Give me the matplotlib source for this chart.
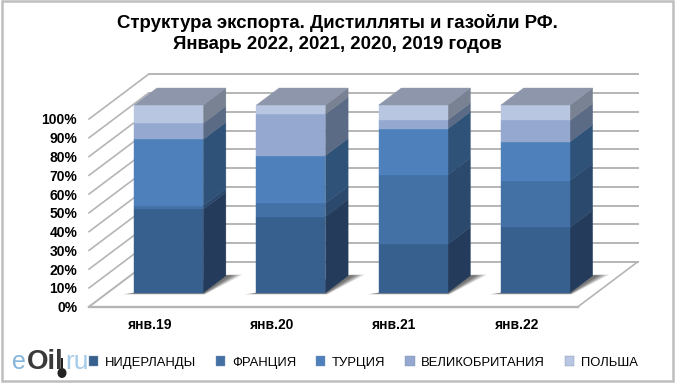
import matplotlib
matplotlib.use("Agg")
import matplotlib.pyplot as plt
from matplotlib.patches import Polygon, Rectangle, Patch, Ellipse
from matplotlib.transforms import Affine2D

plt.rcParams['font.family'] = ['Liberation Sans', 'DejaVu Sans']

categories = ['янв.19', 'янв.20', 'янв.21', 'янв.22']
series_names = ['НИДЕРЛАНДЫ', 'ФРАНЦИЯ', 'ТУРЦИЯ', 'ВЕЛИКОБРИТАНИЯ', 'ПОЛЬША']
niderlandy = [44.4, 40.6, 25.8, 34.8]
francia = [2.0, 7.0, 36.9, 24.9]
turcia = [35.3, 25.5, 24.6, 20.7]
britania = [8.6, 22.1, 4.7, 11.4]
polsha = [9.7, 4.8, 8.0, 8.2]
series = [niderlandy, francia, turcia, britania, polsha]

front_colors = ['#37608E', '#4371A6', '#4E80BC', '#94A8D0', '#B9C6E1']
side_colors = ['#243B5B', '#2B486D', '#2F5279', '#5B6A85', '#788292']
top_color = '#8E96AB'

W, H = 680, 385
fig = plt.figure(figsize=(W / 100, H / 100), dpi=100, facecolor='white')
# axes = front plane of the oblique chart box
L, R, B, T = 89, 578, 306.7, 119
ax = fig.add_axes([L / W, 1 - B / H, (R - L) / W, (B - T) / H])
ax.set_xlim(-0.5, 3.5)
ax.set_ylim(0, 100)
ax.patch.set_visible(False)
for s in ax.spines.values():
    s.set_visible(False)

px_x = 4 / (R - L)
px_y = 100 / (B - T)
DX, DY = 59.5 * px_x, 44.7 * px_y   # full depth of the box
BAR_FRONT, BAR_BACK = 0.313, 0.693
BAR_W = 69 * px_x


def ob(x, y, d):
    return (x + d * DX, y + d * DY)


def poly(pts, **kw):
    kw.setdefault('clip_on', False)
    p = Polygon(pts, closed=True, **kw)
    ax.add_patch(p)
    return p


grid = '#B5B5B5'
lw = 1.4
x0, x1 = -0.5, 3.5
ticks = list(range(0, 101, 10))
for t in ticks:
    ax.plot(*zip(ob(x0, t, 0), ob(x0, t, 1)), color=grid, lw=1.2 if t else lw, clip_on=False, zorder=1)
    ax.plot(*zip(ob(x0, t, 1), ob(x1, t, 1)), color=grid, lw=lw, clip_on=False, zorder=1)
ax.plot(*zip(ob(x0, 0, 0), ob(x1, 0, 0)), color=grid, lw=lw + 0.3, clip_on=False, zorder=1)
ax.plot(*zip(ob(x1, 0, 0), ob(x1, 0, 1)), color=grid, lw=1.2, clip_on=False, zorder=1)

for i in range(len(categories)):
    xl, xr = i - BAR_W / 2, i + BAR_W / 2
    # soft shadow on the floor
    for g, a in [(1.0, 0.2), (0.8, 0.26), (0.6, 0.32), (0.4, 0.36)]:
        poly([ob(xl - 10 * px_x * g, 0, BAR_FRONT - 0.04 * g), ob(xr + 4 * px_x * g, 0, BAR_FRONT - 0.04 * g),
              ob(xr + 15 * px_x * g, 0, BAR_BACK + 0.025 * g), ob(xr, 0, BAR_BACK + 0.025 * g), ob(xl, 0, BAR_FRONT)],
             facecolor='#4A4A4A', edgecolor='none', alpha=a, zorder=2)
    base = 0
    for k, vals in enumerate(series):
        v = vals[i]
        poly([ob(xr, base, BAR_FRONT), ob(xr, base, BAR_BACK), ob(xr, base + v, BAR_BACK), ob(xr, base + v, BAR_FRONT)],
             facecolor=side_colors[k], edgecolor=side_colors[k], lw=0.3, zorder=3)
        poly([ob(xl, base, BAR_FRONT), ob(xr, base, BAR_FRONT), ob(xr, base + v, BAR_FRONT), ob(xl, base + v, BAR_FRONT)],
             facecolor=front_colors[k], edgecolor=front_colors[k], lw=0.3, zorder=4)
        base += v
    poly([ob(xl, base, BAR_FRONT), ob(xr, base, BAR_FRONT), ob(xr, base, BAR_BACK), ob(xl, base, BAR_BACK)],
         facecolor=top_color, edgecolor=top_color, lw=0.3, zorder=4)

ax.set_yticks(ticks)
ax.set_yticklabels([f'{t}%' for t in ticks], fontsize=10, fontweight='bold', color='black')
ax.set_xticks(range(len(categories)))
ax.set_xticklabels(categories, fontsize=10, fontweight='bold', color='black')
ax.tick_params(axis='y', length=0, pad=8.5)
ax.tick_params(axis='x', length=0, pad=8)

handles = [Patch(facecolor=c, edgecolor='#7F93B2', lw=0.3) for c in front_colors]
fig.legend(handles, series_names, loc='center left', bbox_to_anchor=(89 / W, 1 - 362.5 / H), ncol=5,
           frameon=False, fontsize=9.4, handlelength=0.7, handleheight=0.7, handletextpad=0.5,
           columnspacing=1.55, borderpad=0, borderaxespad=0, labelcolor='black')

fig.text(337.5 / W, 1 - 23.5 / H, 'Структура экспорта. Дистилляты и газойли РФ.', ha='center', va='center',
         fontsize=13.4, fontweight='bold', color='black')
fig.text(337.5 / W, 1 - 44.5 / H, 'Январь 2022, 2021, 2020, 2019 годов', ha='center', va='center',
         fontsize=13.4, fontweight='bold', color='black')

# watermark logo
fig.text(12 / W, 1 - 369 / H, 'e', fontsize=18, color='#86B6DC', va='baseline')
fig.text(27 / W, 1 - 369 / H, 'Oil', fontsize=20, color='#3A3A3A', fontweight='bold', va='baseline')
fig.text(65 / W, 1 - 369 / H, 'ru', fontsize=19, color='#A5CCEA', va='baseline')
px = Affine2D().scale(1, -1).translate(0, H)
fig.add_artist(Ellipse((62, 373), 9, 10, facecolor='#222222', edgecolor='none', transform=px))
fig.add_artist(Rectangle((61, 358), 2, 10, facecolor='#222222', edgecolor='none', transform=px))

# outer frame
fig.add_artist(Rectangle((2.2, 0.5), 671, 380, facecolor='none', edgecolor='#BEBEBE', lw=1.8, transform=px))

fig.savefig('out.png', dpi=100, facecolor='white')
